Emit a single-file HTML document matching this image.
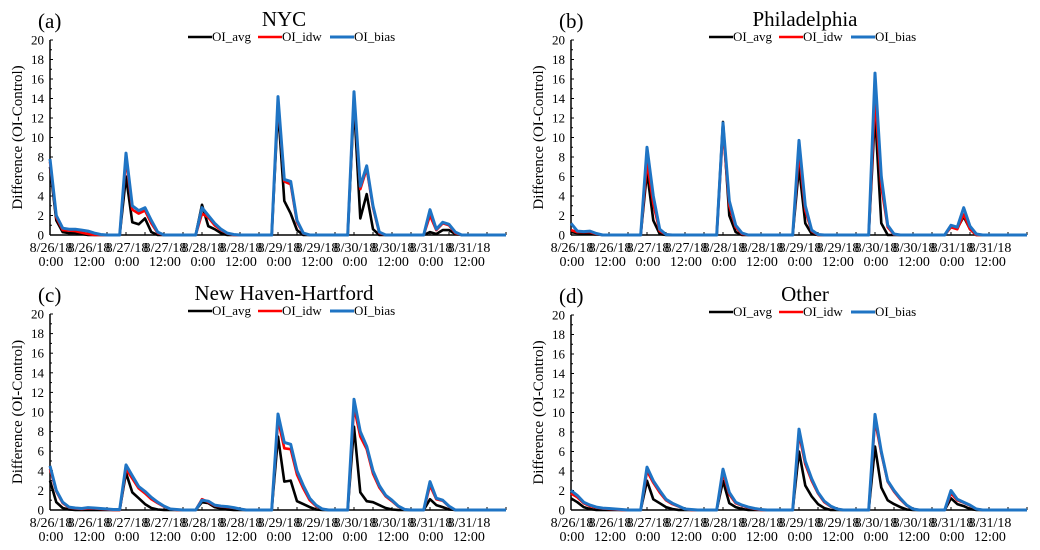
<!DOCTYPE html>
<html><head><meta charset="utf-8"><style>
html,body{margin:0;padding:0;background:#fff;}
svg{display:block;font-family:"Liberation Serif",serif;}
</style></head><body>
<svg id="chart" width="1040" height="550" viewBox="0 0 1040 550" xmlns="http://www.w3.org/2000/svg"></svg>
<script>
// ---- data (2-hourly, index 0 = 8/26/18 0:00, 72 points + final) ----
const seriesNames = ["OI_avg","OI_idw","OI_bias"];
const yTicks = [0,2,4,6,8,10,12,14,16,18,20];
const xTickLabels1 = ["8/26/18","8/26/18","8/27/18","8/27/18","8/28/18","8/28/18","8/29/18","8/29/18","8/30/18","8/30/18","8/31/18","8/31/18"];
const xTickLabels2 = ["0:00","12:00","0:00","12:00","0:00","12:00","0:00","12:00","0:00","12:00","0:00","12:00"];
const panelTitles = ["NYC","Philadelphia","New Haven-Hartford","Other"];
const panelLetters = ["(a)","(b)","(c)","(d)"];

const nycAvg = [7,1.5,0.3,0.2,0.2,0.1,0,0,0,0,0,0, 6,1.3,1.1,1.7,0.3,0,0,0,0,0,0,0, 3.1,0.9,0.6,0.2,0,0,0,0,0,0,0,0, 13,3.5,2.2,0.5,0,0,0,0,0,0,0,0, 13.5,1.7,4.2,0.6,0,0,0,0,0,0,0,0, 0.3,0.1,0.5,0.5,0.1,0,0,0,0,0,0,0, 0];
const nycIdw = [7.5,1.8,0.5,0.45,0.4,0.25,0.1,0,0,0,0,0, 7.8,2.6,2.2,2.5,1.2,0.2,0,0,0,0,0,0, 2.2,1.8,1.0,0.5,0.15,0,0,0,0,0,0,0, 13.8,5.5,5.2,1.3,0.15,0,0,0,0,0,0,0, 14.3,4.7,6.8,2.8,0.2,0,0,0,0,0,0,0, 2.0,0.5,1.2,1.0,0.2,0,0,0,0,0,0,0, 0];
const nycBias = [7.8,2,0.7,0.6,0.6,0.5,0.4,0.2,0.05,0,0,0, 8.4,3,2.5,2.8,1.5,0.3,0,0,0,0,0,0, 2.8,2.0,1.2,0.6,0.2,0.05,0,0,0,0,0,0, 14.2,5.7,5.5,1.5,0.2,0,0,0,0,0,0,0, 14.7,5,7.1,3,0.3,0,0,0,0,0,0,0, 2.6,0.6,1.3,1.1,0.3,0,0,0,0,0,0,0, 0];

const phiAvg = [0.3,0.2,0.15,0.1,0.05,0,0,0,0,0,0,0, 6.5,1.5,0.1,0,0,0,0,0,0,0,0,0, 11.6,2,0.3,0,0,0,0,0,0,0,0,0, 7,1.2,0.1,0,0,0,0,0,0,0,0,0, 12.5,1.2,0,0,0,0,0,0,0,0,0,0, 1,0.7,1.9,0.6,0,0,0,0,0,0,0,0, 0];
const phiIdw = [0.5,0.3,0.3,0.3,0.1,0,0,0,0,0,0,0, 7.5,3.2,0.4,0.05,0,0,0,0,0,0,0,0, 10.8,3,0.8,0.1,0,0,0,0,0,0,0,0, 8.5,2.5,0.4,0,0,0,0,0,0,0,0,0, 14,5,0.8,0.05,0,0,0,0,0,0,0,0, 0.8,0.6,2.1,0.6,0,0,0,0,0,0,0,0, 0];
const phiBias = [1.2,0.4,0.35,0.4,0.15,0,0,0,0,0,0,0, 9,4,0.6,0.05,0,0,0,0,0,0,0,0, 11.5,3.5,1,0.2,0,0,0,0,0,0,0,0, 9.7,3,0.5,0.05,0,0,0,0,0,0,0,0, 16.6,6,1,0.1,0,0,0,0,0,0,0,0, 1.0,0.8,2.8,0.9,0.1,0,0,0,0,0,0,0, 0];

const nhhAvg = [3,0.8,0.2,0.05,0,0,0,0,0,0,0,0, 3.8,1.8,1.2,0.6,0.2,0.05,0,0,0,0,0,0, 0.8,0.7,0.3,0.15,0.05,0,0,0,0,0,0,0, 7.5,2.9,3.0,0.9,0.6,0.3,0.05,0,0,0,0,0, 8.5,1.8,0.9,0.8,0.5,0.2,0.05,0,0,0,0,0, 1.1,0.5,0.3,0.05,0,0,0,0,0,0,0,0, 0];
const nhhIdw = [4.2,1.9,0.7,0.25,0.15,0.1,0.15,0.15,0.1,0.05,0,0, 4.2,3.2,2.2,1.7,1.1,0.7,0.35,0.1,0,0,0,0, 1.1,0.8,0.45,0.35,0.3,0.2,0.1,0,0,0,0,0, 9.2,6.3,6.2,3.6,2.2,1.0,0.4,0.1,0,0,0,0, 10.5,7.5,6.2,3.7,2.3,1.4,0.9,0.35,0.05,0,0,0, 2.5,1.1,0.95,0.35,0,0,0,0,0,0,0,0, 0];
const nhhBias = [4.5,2,0.8,0.3,0.2,0.15,0.25,0.2,0.15,0.1,0.05,0.05, 4.6,3.5,2.4,1.9,1.3,0.8,0.4,0.1,0.05,0,0,0, 1.0,0.9,0.5,0.4,0.35,0.25,0.1,0,0,0,0,0, 9.8,6.9,6.7,4,2.5,1.2,0.5,0.1,0,0,0,0, 11.3,8,6.5,4,2.5,1.5,1,0.4,0.05,0,0,0, 2.9,1.2,1.0,0.4,0,0,0,0,0,0,0,0, 0];

const othAvg = [1.2,0.8,0.3,0.1,0,0,0,0,0,0,0,0, 3,1.1,0.7,0.3,0.1,0,0,0,0,0,0,0, 3,0.7,0.3,0.1,0,0,0,0,0,0,0,0, 6,2.5,1.4,0.6,0.2,0,0,0,0,0,0,0, 6.5,2.3,1.0,0.6,0.3,0.05,0,0,0,0,0,0, 1.2,0.6,0.4,0.1,0,0,0,0,0,0,0,0, 0];
const othIdw = [1.7,1.3,0.7,0.4,0.25,0.15,0.1,0.05,0,0,0,0, 4.0,2.8,1.8,1.0,0.6,0.35,0.1,0,0,0,0,0, 3.8,1.6,0.7,0.45,0.25,0.1,0,0,0,0,0,0, 7.8,4.7,3.0,1.7,0.8,0.35,0.1,0,0,0,0,0, 9.2,5.8,2.9,1.9,1.1,0.45,0.1,0,0,0,0,0, 1.7,1.0,0.75,0.45,0.1,0,0,0,0,0,0,0, 0];
const othBias = [2,1.5,0.8,0.5,0.3,0.2,0.15,0.1,0.05,0,0,0, 4.4,3.0,2.0,1.1,0.7,0.4,0.1,0.05,0,0,0,0, 4.2,1.8,0.8,0.5,0.3,0.15,0.05,0,0,0,0,0, 8.3,5,3.2,1.8,0.9,0.4,0.1,0,0,0,0,0, 9.8,6,3,2,1.2,0.5,0.1,0,0,0,0,0, 2.0,1.1,0.8,0.5,0.1,0,0,0,0,0,0,0, 0];

const panelData = [[nycAvg,nycIdw,nycBias],[phiAvg,phiIdw,phiBias],[nhhAvg,nhhIdw,nhhBias],[othAvg,othIdw,othBias]];
const colors = ["#000000","#ff0000","#1f74c4"];
const widths = [2.6,2.6,3];

const NS = "http://www.w3.org/2000/svg";
const svg = document.getElementById("chart");
function mk(tag, attrs, parent){const e=document.createElementNS(NS,tag);for(const k in attrs)e.setAttribute(k,attrs[k]);(parent||svg).appendChild(e);return e;}

const panels = [
 {x0:50,  x1:506, y0:235, y20:40},
 {x0:571, x1:1027,y0:235, y20:40},
 {x0:50,  x1:506, y0:510, y20:314},
 {x0:571, x1:1027,y0:510, y20:315}
];
const slugs=["nyc","philadelphia","new-haven-hartford","other"];

panels.forEach((p,pi)=>{
  const g = mk("g",{});
  
  
  const xS = i => p.x0 + (p.x1-p.x0)*i/72;
  const yS = v => p.y0 - (p.y0-p.y20)*v/20;
  const lt = mk("text",{x:p.x0-12,y:p.y20-12,"font-size":21,fill:"#000"},g); lt.textContent=panelLetters[pi];
  
  
  const tt = mk("text",{x:p.x0+234,y:p.y20-14,"font-size":21,"text-anchor":"middle",fill:"#000"},g); tt.textContent=panelTitles[pi];
  
  
  const lx=[138,208,280];
  seriesNames.forEach((n,si)=>{
    const lg = mk("g",{},g);
    
    
    mk("line",{x1:p.x0+lx[si],x2:p.x0+lx[si]+24,y1:p.y20-3,y2:p.y20-3,stroke:colors[si],"stroke-width":widths[si]},lg);
    const t=mk("text",{x:p.x0+lx[si]+24,y:p.y20+1,"font-size":13,fill:"#000"},lg); t.textContent=n;
  });
  const ya = mk("g",{},g);
  
  
  mk("line",{x1:p.x0,x2:p.x0,y1:p.y20,y2:p.y0,stroke:"#000","stroke-width":1.5},ya);
  for(let v=0;v<=20;v++){mk("line",{x1:p.x0,x2:p.x0+(v%2?2:3),y1:yS(v),y2:yS(v),stroke:"#000","stroke-width":1},ya);}
  yTicks.forEach(v=>{const t=mk("text",{x:p.x0-6,y:yS(v)+4.5,"font-size":13,"text-anchor":"end",fill:"#000"},ya);t.textContent=v;});
  const yt=mk("text",{transform:`translate(${p.x0-28},${(p.y0+p.y20)/2}) rotate(-90)`,"font-size":15,"text-anchor":"middle",fill:"#000"},g);
  yt.textContent="Difference (OI-Control)";
  
  
  const xa = mk("g",{},g);
  
  
  mk("line",{x1:p.x0,x2:p.x1,y1:p.y0,y2:p.y0,stroke:"#000","stroke-width":1.5},xa);
  for(let i=0;i<=72;i+=3){mk("line",{x1:xS(i),x2:xS(i),y1:p.y0,y2:p.y0-3,stroke:"#000","stroke-width":1},xa);}
  xTickLabels1.forEach((l,k)=>{
    const x=xS(k*6)+1;
    const a=mk("text",{x:x,y:p.y0+17,"font-size":14,"text-anchor":"middle",fill:"#000"},xa);a.textContent=l;
    const b=mk("text",{x:x,y:p.y0+31,"font-size":14,"text-anchor":"middle",fill:"#000"},xa);b.textContent=xTickLabels2[k];
  });
  panelData[pi].forEach((arr,si)=>{
    const d = arr.map((v,i)=>(i?"L":"M")+xS(i).toFixed(1)+","+yS(v).toFixed(1)).join(" ");
    const path = mk("path",{d:d,fill:"none",stroke:colors[si],"stroke-width":widths[si],"stroke-linejoin":"round"},g);
    
    
  });
});
</script>
</body></html>
